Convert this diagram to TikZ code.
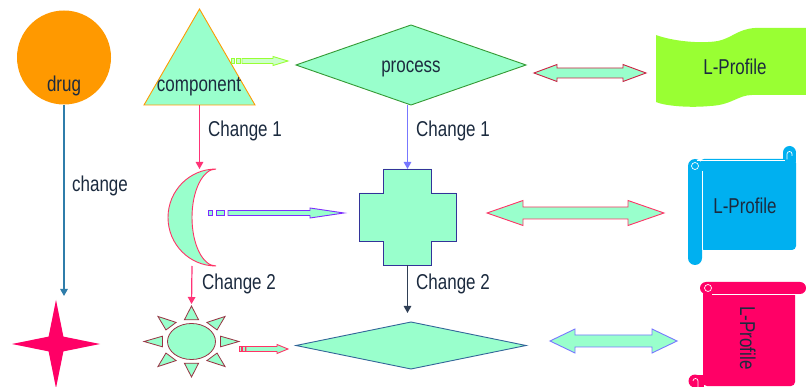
\documentclass[tikz,border=0pt]{standalone}
\usepackage{fontspec}
\setmainfont{Liberation Sans}[FakeStretch=0.79]
\usetikzlibrary{arrows.meta,shapes.geometric,calc}

\definecolor{mint}{HTML}{99FFCC}
\definecolor{ink}{HTML}{1C2B3F}
\definecolor{drugc}{HTML}{FF9900}
\definecolor{starc}{HTML}{FF0066}
\definecolor{steel}{HTML}{2F7DAA}
\definecolor{pinkc}{HTML}{FF3377}
\definecolor{lilac}{HTML}{7777FF}
\definecolor{darkc}{HTML}{2F3F55}
\definecolor{procc}{HTML}{339933}
\definecolor{da1c}{HTML}{CC2244}
\definecolor{wavec}{HTML}{99FF33}
\definecolor{moonc}{HTML}{FF3366}
\definecolor{crossc}{HTML}{333399}
\definecolor{sunc}{HTML}{993344}
\definecolor{d3c}{HTML}{336699}
\definecolor{a1f}{HTML}{CCFFCC}
\definecolor{a1c}{HTML}{99FF33}
\definecolor{a2c}{HTML}{7F2BFF}
\definecolor{bluec}{HTML}{00B0F0}
\definecolor{redc}{HTML}{FF0066}

\tikzset{
  box/.style 2 args={minimum width=#1, minimum height=#2, inner sep=0pt, outer sep=0pt},
  txt/.style={font=\fontsize{21.5}{24}\selectfont, text=ink, inner sep=0pt},
  conn/.style={line width=1.2pt, -{Triangle[width=7.5pt,length=7pt]}},
  shp/.style={fill=mint, line width=0.9pt},
  curl/.style={white, line width=0.7pt},
}

\newcommand{\SArrow}[6]{\draw[#1] let \p1=(#2), \p2=(#3), \n1={\x2-\x1-#4} in
  (#2) ++(0,-#6) -- ++(\n1,0) -- ++(0,#6-#5) -- (#3) -- ++(-#4,#5) -- ++(0,#6-#5) -- ++(-\n1,0) -- cycle;}
\newcommand{\DArrow}[6]{\draw[#1] let \p1=(#2), \p2=(#3), \n1={\x2-\x1-2*(#4)} in
  (#2) -- ++(#4,-#5) -- ++(0,#5-#6) -- ++(\n1,0) -- ++(0,#6-#5) -- (#3) -- ++(-#4,#5) -- ++(0,#6-#5) -- ++(-\n1,0) -- ++(0,#5-#6) -- cycle;}

\begin{document}
\begin{tikzpicture}[x=1pt,y=-1pt]
\useasboundingbox (0,0) rectangle (806,387);
\fill[white] (0,0) rectangle (806,387);
\clip (0,0) rectangle (806,387);

% ---------- column 1
\node[circle, minimum size=94pt, inner sep=0pt, fill=drugc] (drug) at (64,57.5) {};
\node[txt, anchor=base] (drugtxt) at (64,92) {drug};
\node[star, star points=4, star point ratio=4.2, minimum size=88pt, inner sep=0pt, fill=starc] (star) at (56,344) {};
\draw[conn, color=steel, shorten >=3pt] (drug.south) -- (drug.south |- star.north);
\node[txt, anchor=base] (lchange) at (100,192) {change};

% ---------- column 2
\node[box={111pt}{96pt}] (comp) at (199.5,57) {};
\draw[shp, draw=drugc] (comp.south west) -- (comp.north) -- (comp.south east) -- cycle;
\node[txt, anchor=base] (comptxt) at (199,92) {component};

\node[box={48pt}{97pt}] (moon) at (192,217.5) {};
\begin{scope}[shift={(moon.center)}]
\draw[shp, draw=moonc] (24,-48.5) .. controls (-2.5,-48.5) and (-24,-26.8) .. (-24,0)
  .. controls (-24,26.8) and (-2.5,48.5) .. (24,48.5)
  .. controls (10.7,48.5) and (0,26.8) .. (0,0)
  .. controls (0,-26.8) and (10.7,-48.5) .. (24,-48.5) -- cycle;
\end{scope}

\node[box={95pt}{71pt}] (sun) at (191.5,341.5) {};
\begin{scope}[shift={(sun.center)}, xscale=47.5, yscale=35.5]
\foreach \a in {0,45,...,315}
  \draw[shp, draw=sunc, line width=0.8pt] ({cos(\a)},{sin(\a)}) -- ({0.61*cos(\a)-0.15*sin(\a)},{0.61*sin(\a)+0.15*cos(\a)}) -- ({0.61*cos(\a)+0.15*sin(\a)},{0.61*sin(\a)-0.15*cos(\a)}) -- cycle;
\end{scope}
\draw[shp, draw=sunc, line width=0.8pt] (sun.center) ellipse [x radius=24pt, y radius=18pt];

\draw[conn, color=pinkc] (comp.south) -- (comp.south |- moon.north);
\node[txt, anchor=base west] (lc1a) at (208,137) {Change 1};
\draw[conn, color=pinkc, shorten >=2pt] (moon.south) -- (sun.north);
\node[txt, anchor=base west] (lc2a) at (202,290) {Change 2};

% ---------- column 3
\node[box={230pt}{80pt}] (proc) at (411,65) {};
\draw[shp, draw=procc] (proc.west) -- (proc.north) -- (proc.east) -- (proc.south) -- cycle;
\node[txt, anchor=base] (proctxt) at (411,73) {process};

\node[box={97pt}{96pt}] (cross) at (407.5,217) {};
\begin{scope}[shift={(cross.center)}]
\draw[shp, draw=crossc] (-24,-48) -- (24,-48) -- (24,-24) -- (48.5,-24) -- (48.5,24) -- (24,24)
  -- (24,48) -- (-24,48) -- (-24,24) -- (-48.5,24) -- (-48.5,-24) -- (-24,-24) -- cycle;
\end{scope}

\node[box={230pt}{47pt}] (dthree) at (411,345.5) {};
\draw[shp, draw=d3c] (dthree.west) -- (dthree.north) -- (dthree.east) -- (dthree.south) -- cycle;

\draw[conn, color=lilac] (cross.north |- proc.south) -- (cross.north);
\node[txt, anchor=base west] (lc1b) at (416,137) {Change 1};
\draw[conn, color=darkc, shorten >=9pt] (cross.south) -- (cross.south |- dthree.north);
\node[txt, anchor=base west] (lc2b) at (416,290) {Change 2};

% ---------- striped arrows
\coordinate (a1s) at (242,61); \coordinate (a1e) at (288,61);
\filldraw[fill=a1f, draw=a1c, line width=0.9pt] (231,58.5) rectangle (234,63.5) (236,58.5) rectangle (240,63.5);
\SArrow{fill=a1f, draw=a1c, line width=0.9pt}{a1s}{a1e}{15}{4.5}{2.5}

\coordinate (a2s) at (228,213); \coordinate (a2e) at (344,213);
\filldraw[fill=mint, draw=a2c, line width=0.9pt] (208,210.5) rectangle (212,215.5) (216,210.5) rectangle (224,215.5);
\SArrow{fill=mint, draw=a2c, line width=0.9pt}{a2s}{a2e}{34}{5}{2.5}

\coordinate (a3s) at (246,349); \coordinate (a3e) at (288,349);
\filldraw[fill=mint, draw=moonc, line width=0.9pt] (239,346.5) rectangle (241,351.5) (242.5,346.5) rectangle (245,351.5);
\SArrow{fill=mint, draw=moonc, line width=0.9pt}{a3s}{a3e}{11}{4.5}{2.5}

% ---------- double arrows
\coordinate (da1s) at (534,73); \coordinate (da1e) at (646,73);
\DArrow{fill=mint, draw=da1c, line width=0.9pt}{da1s}{da1e}{23}{8.5}{5}
\coordinate (da2s) at (487,213); \coordinate (da2e) at (664,213);
\DArrow{fill=mint, draw=moonc, line width=0.9pt}{da2s}{da2e}{36}{12.5}{6}
\coordinate (da3s) at (550,341); \coordinate (da3e) at (677,341);
\DArrow{fill=mint, draw=lilac, line width=0.9pt}{da3s}{da3e}{25}{12}{6}

% ---------- profile 1: wave
\node[box={150pt}{80pt}] (prof1) at (731,67.5) {};
\fill[wavec] (656,35) .. controls (672,41) and (700,44) .. (718,41) .. controls (732,38) and (738,29) .. (755,28)
  -- (806,28) -- (806,95) -- (752,95) .. controls (738,95) and (732,105) .. (710,106)
  .. controls (690,108) and (665,106) .. (656,102) -- cycle;
\node[txt, anchor=base] (p1txt) at (735,75) {L-Profile};

% ---------- profile 2: vertical scroll
\node[box={108pt}{120pt}] (prof2) at (742,205.5) {};
\fill[bluec, rounded corners=4pt] (700,159) rectangle (796,250);
\fill[bluec] (783,152) rectangle (796,162);
\fill[bluec] (789.5,152.5) circle[radius=6.5pt];
\fill[bluec, rounded corners=7pt] (688,159) rectangle (702,265);
\draw[curl] (702,171) -- (702,250);
\draw[curl] (697,160.5) -- (785,160.5);
\draw[curl] (695,166) circle[radius=3.5pt];
\draw[curl] (787,159.5) -- (787,154) arc[start angle=180, end angle=0, radius=2.5pt] -- (792,156);
\node[txt, anchor=base] (p2txt) at (745,214) {L-Profile};

% ---------- profile 3: horizontal scroll
\node[box={118pt}{105pt}] (prof3) at (747,334.5) {};
\fill[redc, rounded corners=4pt] (703,290) rectangle (795,386);
\fill[redc, rounded corners=6pt] (700,282) rectangle (806,294);
\fill[redc] (708,288) circle[radius=6pt];
\fill[redc] (695,374.5) rectangle (704,387.5);
\fill[redc] (695,381) circle[radius=6.5pt];
\draw[curl] (712,294.5) -- (800,294.5);
\draw[curl] (708,288) circle[radius=3.5pt];
\draw[curl] (698,387) -- (698,381) arc[start angle=0, end angle=180, radius=2.5pt];
\node[txt, rotate=-90, anchor=base] (p3txt) at (740,338) {L-Profile};
\end{tikzpicture}
\end{document}
